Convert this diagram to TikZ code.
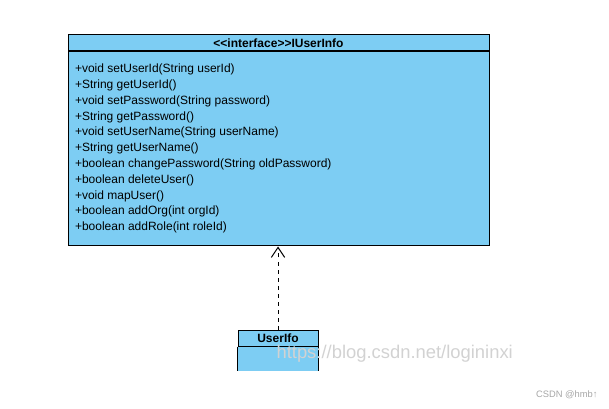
\documentclass[tikz,border=0pt]{standalone}
\usepackage{fontspec}
\setmainfont{Liberation Sans}
\usetikzlibrary{positioning,arrows.meta}
\definecolor{umlblue}{RGB}{125,205,243}

\begin{document}
\begin{tikzpicture}[x=0.75pt, y=-0.75pt, thick,
    hdr/.style = {draw, fill=umlblue, line width=0.75pt, inner sep=0pt, minimum height=12pt, font=\fontsize{9}{10}\selectfont\bfseries},
    body/.style = {draw, fill=umlblue, line width=0.75pt, inner sep=0pt},
    methods/.style = {align=left, inner sep=0pt, font=\fontsize{9}{11.85}\selectfont},
    wmark/.style = {inner sep=0pt}]
    \useasboundingbox (0,0) rectangle (609,409);

    % interface
    \node[hdr, minimum width=315.75pt] (ihead) at (278.5,43) {{<}{<}interface{>}{>}IUserInfo};
    \node[body, minimum width=315.75pt, minimum height=145.5pt, below=0pt of ihead] (ibody) {};
    \node[methods, anchor=north west] (mlist) at ([xshift=5.25pt, yshift=-9pt]ibody.north west) {%
        +void setUserId(String userId)\\
        +String getUserId()\\
        +void setPassword(String password)\\
        +String getPassword()\\
        +void setUserName(String userName)\\
        +String getUserName()\\
        +boolean changePassword(String oldPassword)\\
        +boolean deleteUser()\\
        +void mapUser()\\
        +boolean addOrg(int orgId)\\
        +boolean addRole(int roleId)};

    % class
    \node[hdr, minimum width=60pt] (chead) at (278,338) {UserIfo};
    \fill[umlblue] (chead.south west) rectangle ++(80,24);
    \draw[line width=0.75pt] (chead.south west) -- ++(0,24) coordinate (cbl);
    \draw[line width=0.75pt] (chead.south east) -- ++(0,24) coordinate (cbr);

    \draw[dashed, line width=0.75pt, -{Straight Barb[length=7.5pt, width=10pt]}] (chead.north) -- (ibody.south -| chead.north);

    % watermarks
    \node[wmark, text=gray!35, font=\fontsize{13.8}{14}\selectfont, anchor=base west] (url) at (276,358.5) {https://blog.csdn.net/logininxi};
    \node[wmark, text=gray!70, font=\fontsize{7}{8}\selectfont, anchor=east] (csdn) at (598,395) {CSDN @hmb↑};
\end{tikzpicture}
\end{document}
